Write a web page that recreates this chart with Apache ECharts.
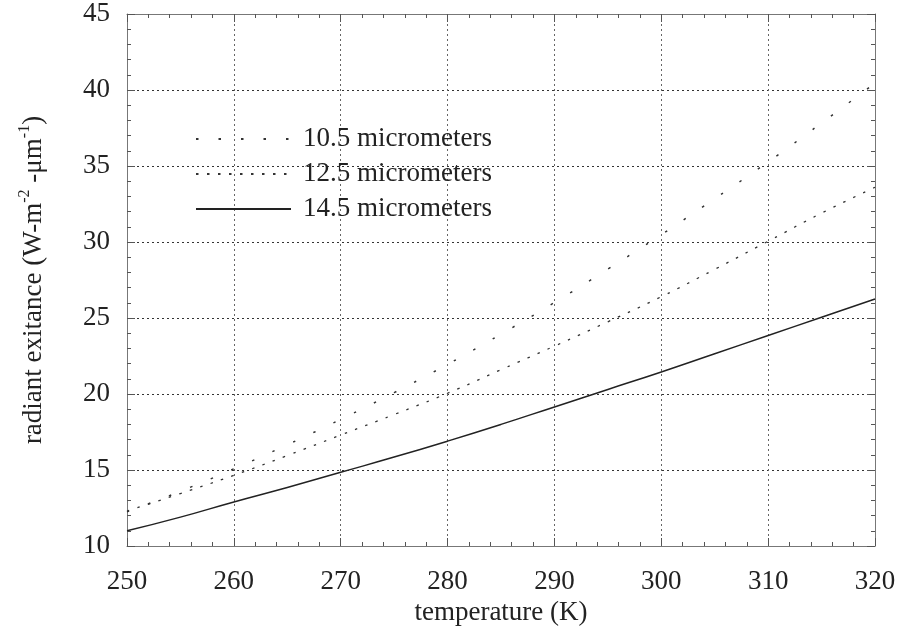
<!DOCTYPE html>
<html>
<head>
<meta charset="utf-8">
<script src="https://cdn.jsdelivr.net/npm/echarts@6/dist/echarts.min.js"></script>
<style>
  html, body { margin: 0; padding: 0; background: #fff; }
  #chart { width: 899px; height: 637px; }
</style>
</head>
<body>
<div id="chart"></div>
<script>
// temperatures (K)
const temps = [250, 255, 260, 265, 270, 275, 280, 285, 290, 295, 300, 305, 310, 315, 320];
// radiant exitance
const val105 = [12.25, 13.6, 15.08, 16.66, 18.33, 20.09, 21.95, 23.94, 26.02, 28.22, 30.48, 32.85, 35.27, 37.83, 40.45];
const val125 = [12.3, 13.45, 14.65, 15.95, 17.3, 18.65, 20.05, 21.6, 23.15, 24.75, 26.4, 28.2, 30.05, 31.9, 33.6];
const val145 = [11.0, 11.9, 12.9, 13.85, 14.85, 15.85, 16.9, 18.0, 19.15, 20.3, 21.45, 22.65, 23.85, 25.05, 26.25];
const seriesNames = ["10.5 micrometers", "12.5 micrometers", "14.5 micrometers"];

const serif = "Liberation Serif, DejaVu Serif, serif";
const pairs = (ys) => temps.map((t, i) => [t, ys[i]]);

const chart = echarts.init(document.getElementById("chart"));

const frameAxis = {
  axisLine: { show: true, lineStyle: { color: "#777", width: 1 } },
  axisTick: { show: true, inside: true, length: 8, lineStyle: { color: "#555" } },
  minorTick: { show: true, splitNumber: 5, length: 4, lineStyle: { color: "#555" } },
};

const option = {
  backgroundColor: "#fff",
  animation: false,
  grid: { left: 127, right: 24, top: 14, bottom: 91 },
  legend: {
    orient: "vertical",
    left: 190,
    top: 120,
    itemWidth: 95,
    itemHeight: 14,
    itemGap: 7,
    data: seriesNames,
    itemStyle: { opacity: 0 },
    textStyle: { fontFamily: serif, fontSize: 27, lineHeight: 28, color: "#222", padding: [0, 0, 0, 7] },
  },
  xAxis: [
    {
      type: "value",
      min: 250,
      max: 320,
      interval: 10,
      name: "temperature (K)",
      nameLocation: "middle",
      nameGap: 49,
      nameTextStyle: { fontFamily: serif, fontSize: 27, color: "#222" },
      axisLabel: { fontFamily: serif, fontSize: 27, color: "#222", margin: 22 },
      splitLine: { show: true, lineStyle: { color: "#666", type: [2, 3], width: 1 } },
      ...frameAxis,
    },
    {
      type: "value",
      position: "top",
      min: 250,
      max: 320,
      interval: 10,
      axisLabel: { show: false },
      splitLine: { show: false },
      ...frameAxis,
    },
  ],
  yAxis: [
    {
      type: "value",
      min: 10,
      max: 45,
      interval: 5,
      name: "radiant exitance (W-m{sup|-2} -μm{sup|-1})",
      nameLocation: "middle",
      nameGap: 76,
      nameTextStyle: {
        fontFamily: serif,
        fontSize: 27,
        color: "#222",
        lineHeight: 34,
        rich: {
          sup: { fontFamily: serif, fontSize: 16, color: "#222", verticalAlign: "top", lineHeight: 34, padding: [0, 0, 12, 0] },
        },
      },
      axisLabel: { fontFamily: serif, fontSize: 27, color: "#222", margin: 17 },
      splitLine: { show: true, lineStyle: { color: "#333", type: [2, 3], width: 1 } },
      ...frameAxis,
    },
    {
      type: "value",
      position: "right",
      min: 10,
      max: 45,
      interval: 5,
      axisLabel: { show: false },
      splitLine: { show: false },
      ...frameAxis,
    },
  ],
  series: [
    {
      name: seriesNames[0],
      type: "line",
      smooth: true,
      symbol: "none",
      data: pairs(val105),
      lineStyle: { color: "#333", width: 1.5, type: [2.5, 20] },
      itemStyle: { color: "#333" },
    },
    {
      name: seriesNames[1],
      type: "line",
      smooth: true,
      symbol: "none",
      data: pairs(val125),
      lineStyle: { color: "#333", width: 1.3, type: [2.5, 8.5] },
      itemStyle: { color: "#333" },
    },
    {
      name: seriesNames[2],
      type: "line",
      smooth: true,
      symbol: "none",
      data: pairs(val145),
      lineStyle: { color: "#222", width: 1.5, type: "solid" },
      itemStyle: { color: "#222" },
    },
  ],
};

chart.setOption(option);
</script>
</body>
</html>
